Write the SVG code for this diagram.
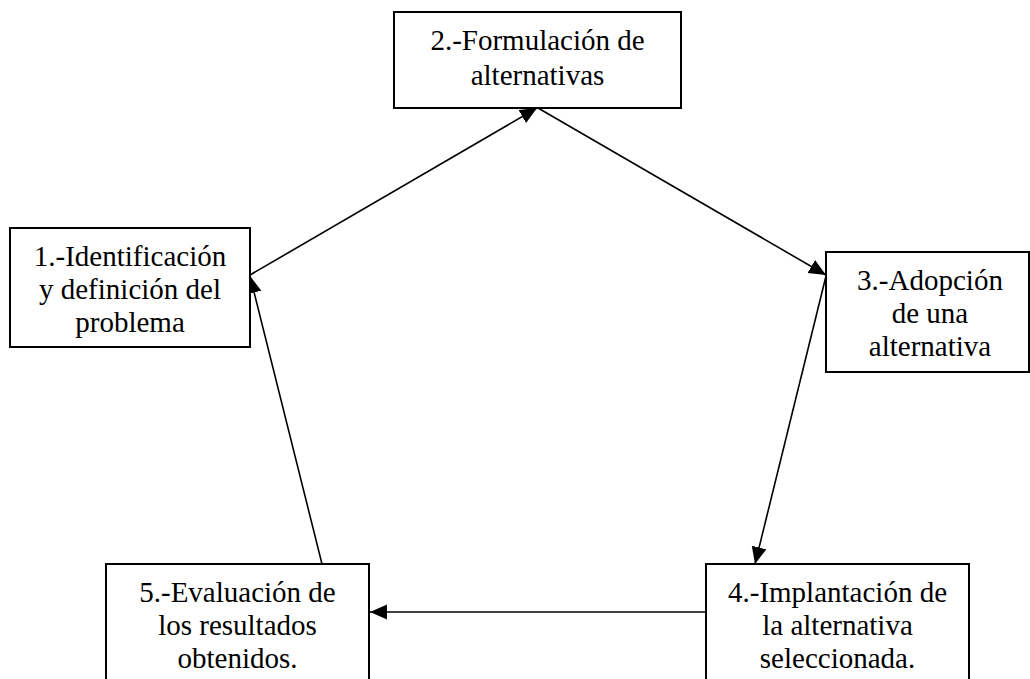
<svg xmlns="http://www.w3.org/2000/svg" width="1030" height="679" viewBox="0 0 1030 679">
<style>
.box{fill:#fff;stroke:#000;stroke-width:2}
text{font-size:29px;fill:#000;text-anchor:middle}
.c{stroke:#000;stroke-width:1.6;fill:none;marker-end:url(#ah)}
</style>
<defs>
<marker id="ah" markerUnits="userSpaceOnUse" markerWidth="18" markerHeight="16" refX="17" refY="7.5" orient="auto">
<path d="M0,0 L17,7.5 L0,15 Z" fill="#000"/>
</marker>
</defs>
<rect width="1030" height="679" fill="#fff"/>
<g id="connectors">
<line class="c" x1="250" y1="275" x2="537" y2="108"/>
<line class="c" x1="538" y1="108" x2="826" y2="275"/>
<line class="c" x1="826" y1="276" x2="755" y2="564"/>
<line class="c" x1="706" y1="612" x2="370" y2="612"/>
<line class="c" x1="322" y1="564" x2="250" y2="276"/>
</g>
<g font-family="Liberation Serif, Tinos, Times New Roman, DejaVu Serif, serif">
<g id="n1">
<rect class="box" x="10" y="228" width="240" height="119"/>
<text x="130" y="266">1.-Identificación</text>
<text x="130" y="299">y definición del</text>
<text x="130" y="332">problema</text>
</g>
<g id="n2">
<rect class="box" x="394" y="12" width="287" height="96"/>
<text x="537.5" y="50">2.-Formulación de</text>
<text x="537.5" y="85">alternativas</text>
</g>
<g id="n3">
<rect class="box" x="826" y="252" width="203" height="120"/>
<text x="930" y="290">3.-Adopción</text>
<text x="930" y="323">de una</text>
<text x="930" y="356">alternativa</text>
</g>
<g id="n4">
<rect class="box" x="706" y="564" width="263" height="130"/>
<text x="837.5" y="602">4.-Implantación de</text>
<text x="837.5" y="635">la alternativa</text>
<text x="837.5" y="668">seleccionada.</text>
</g>
<g id="n5">
<rect class="box" x="106" y="564" width="263" height="130"/>
<text x="237.5" y="602">5.-Evaluación de</text>
<text x="237.5" y="635">los resultados</text>
<text x="237.5" y="668">obtenidos.</text>
</g>
</g>
</svg>
